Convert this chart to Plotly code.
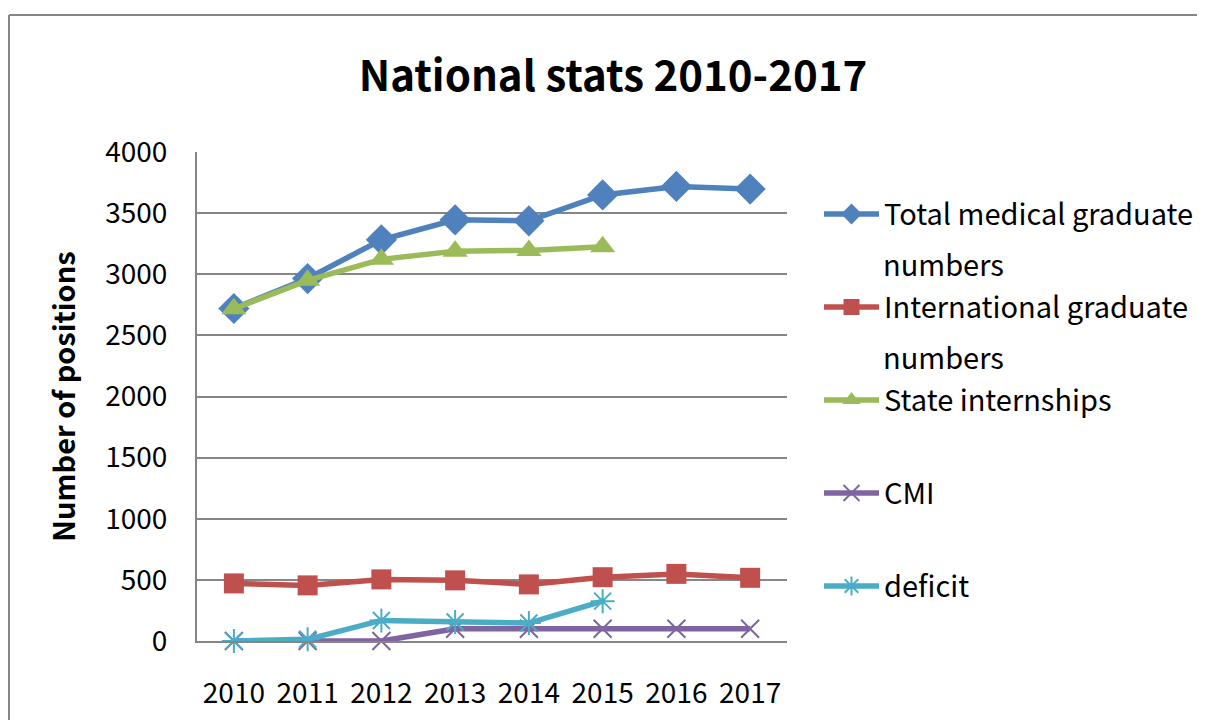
import plotly.graph_objects as go

years = ["2010", "2011", "2012", "2013", "2014", "2015", "2016", "2017"]
total_medical = [2720, 2965, 3282, 3445, 3437, 3649, 3718, 3697]
international = [471, 455, 504, 496, 463, 522, 549, 517]
state_intern = [2718, 2950, 3122, 3189, 3195, 3224]
cmi = [0, 0, 0, 100, 100, 100, 100, 100]
deficit = [0, 14, 168, 155, 147, 326]

names = ["Total medical graduate", "International graduate",
         "State internships", "CMI", "deficit"]
name_cont = ["numbers", "numbers", None, None, None]
colors = ["#4F81BD", "#C0504D", "#9BBB59", "#8064A2", "#4BACC6"]

FONT = "Noto Sans CJK KR"
W, H = 1205, 720
L, R, T, B = 189, 779, 144, 633  # plot area in figure pixels
PW, PH = R - L, B - T
LEG_FS = 29
PITCH = 93

def px_x(v):
    return (v - L) / PW

def px_y(v):
    return (B - v) / PH

fig = go.Figure()

series = [
    (years, total_medical, dict(symbol="diamond", size=24)),
    (years, international, dict(symbol="square", size=20)),
    (years[:len(state_intern)], state_intern, dict(symbol="triangle-up", size=22)),
    (years, cmi, dict(symbol="x-thin", size=18)),
    (years[:len(deficit)], deficit, dict(symbol="asterisk", size=20)),
]
for i, (xs, ys, mk) in enumerate(series):
    marker = dict(color=colors[i], **mk)
    if mk["symbol"] in ("x-thin", "asterisk"):
        marker["line"] = dict(color=colors[i], width=2)
    fig.add_trace(go.Scatter(
        x=xs, y=ys, name=names[i], mode="lines+markers",
        line=dict(color=colors[i], width=5.5),
        marker=marker, legendgroup=str(i), cliponaxis=False,
    ))

first_line_y = 203  # figure px, centre of first legend line
annotations = []
for i, cont in enumerate(name_cont):
    if cont:
        annotations.append(dict(
            text=cont, xref="paper", yref="paper", showarrow=False,
            x=px_x(873), xanchor="left",
            y=px_y(first_line_y + i * PITCH + 52), yanchor="middle",
            font=dict(family=FONT, size=LEG_FS, color="black")))

item_h = LEG_FS * 1.3 + 3
fig.update_layout(
    width=W, height=H,
    paper_bgcolor="white", plot_bgcolor="white",
    margin=dict(l=L, r=W - R, t=T, b=H - B),
    font=dict(family=FONT, size=28, color="black"),
    title=dict(text="<b>National stats 2010-2017</b>", x=605 / W, xref="container",
               xanchor="center", y=1 - 68 / H, yref="container", yanchor="middle",
               font=dict(family=FONT, size=42, color="black")),
    showlegend=True,
    legend=dict(x=px_x(811), xanchor="left", y=px_y(first_line_y - item_h / 2 - 2),
                yanchor="top", traceorder="grouped",
                tracegroupgap=PITCH - item_h, valign="middle",
                itemwidth=55, font=dict(family=FONT, size=LEG_FS, color="black"),
                bgcolor="rgba(0,0,0,0)"),
    annotations=annotations,
    xaxis=dict(type="category", range=[-0.5, 7.5], showgrid=False,
               showline=True, linecolor="#868686", linewidth=2,
               ticks="", ticklabelstandoff=26,
               tickfont=dict(family=FONT, size=28, color="black")),
    yaxis=dict(range=[0, 4000], dtick=500, showgrid=True, gridcolor="#868686",
               gridwidth=2, showline=True, linecolor="#868686", linewidth=2,
               ticks="", ticklabelstandoff=22, zeroline=False,
               tickfont=dict(family=FONT, size=28, color="black"),
               title=dict(text="<b>Number of positions</b>", standoff=21,
                          font=dict(family=FONT, size=29, color="black"))),
    shapes=[
        dict(type="line", xref="paper", yref="paper",
             x0=px_x(1), x1=px_x(1400), y0=px_y(7), y1=px_y(7),
             line=dict(color="#868686", width=2), layer="below"),
        dict(type="line", xref="paper", yref="paper",
             x0=px_x(1), x1=px_x(1), y0=px_y(7), y1=px_y(900),
             line=dict(color="#868686", width=2), layer="below"),
    ],
)

fig.write_html("out.html")
